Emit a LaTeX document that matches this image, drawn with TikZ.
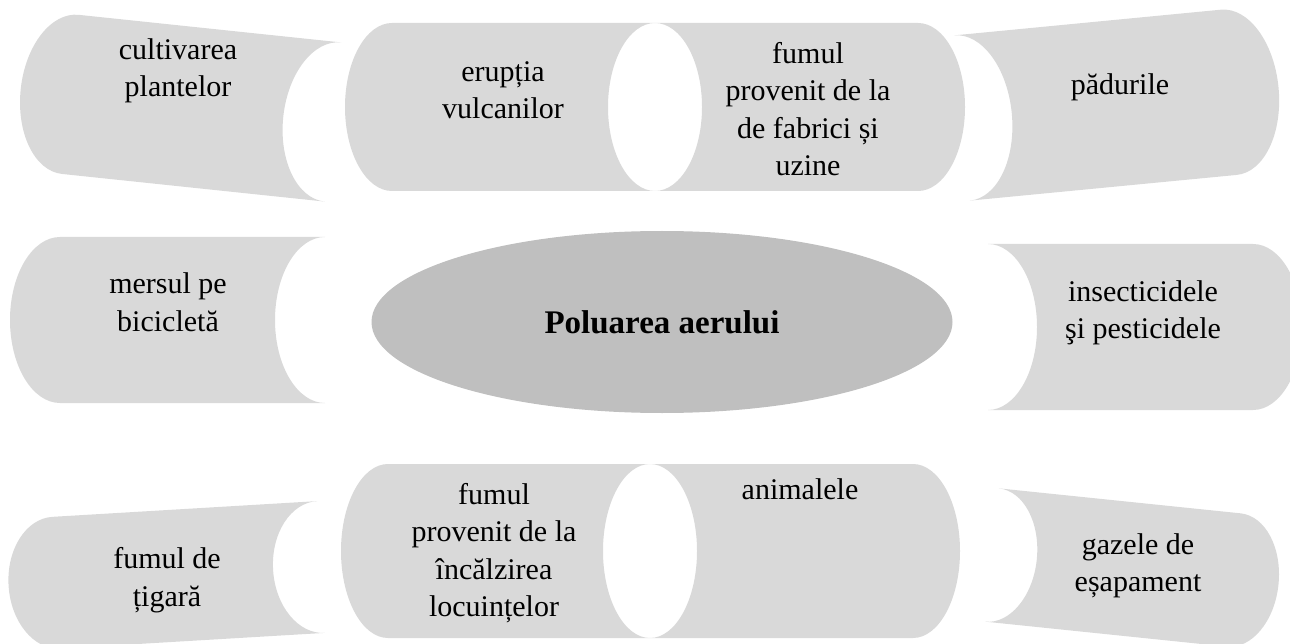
\documentclass[tikz,border=0pt]{standalone}
\usepackage{fontspec}
\setmainfont{Liberation Serif}
\usepackage{xcolor}
\usepackage{tikz}
\usetikzlibrary{shapes.geometric}

\definecolor{cangray}{HTML}{D9D9D9}
\definecolor{hubgray}{HTML}{BFBFBF}

\begin{document}
\begin{tikzpicture}[x=1pt, y=1pt,
  pics/can/.style n args={3}{code={
    \fill[cangray] (0,#2) -- (#1,#2)
      arc[start angle=90, end angle=-90, x radius=#3, y radius=#2]
      -- (0,-#2)
      arc[start angle=-90, end angle=90, x radius=#3, y radius=#2] -- cycle;
  }},
  lbl/.style={align=center, inner sep=0pt, font=\fontsize{30}{37.5}\selectfont},
  hub/.style={ellipse, fill=hubgray, minimum width=581, minimum height=182, inner sep=0pt, font=\fontsize{33}{39}\selectfont\bfseries}
]
\useasboundingbox (0,0) rectangle (1290,-644);

% top row
\pic[rotate=174] at (333,-122) {can={264}{80}{50}};
\pic[rotate=180] at (655,-107) {can={263}{84}{47}};
\pic at (655,-107) {can={263}{84}{47}};
\pic[rotate=5.5] at (962,-118) {can={268}{83}{50}};

% middle row
\pic[rotate=180] at (325,-320) {can={265}{83}{50}};
\pic at (988,-327) {can={265}{83}{49}};

% bottom row
\pic[rotate=183.4] at (321,-567) {can={265}{66}{48}};
\pic[rotate=180] at (650,-551) {can={262}{87}{47}};
\pic at (650,-551) {can={263}{87}{47}};
\pic[rotate=-5.9] at (992,-555) {can={243}{67}{45}};

\node[hub] (hub) at (662,-322) {Poluarea aerului};

\node[lbl] (cult) at (178,-71) {cultivarea\\plantelor};
\node[lbl] (erup) at (503,-90) {erupția\\vulcanilor};
\node[lbl] (fabr) at (808,-109) {fumul\\provenit de la\\de fabrici și\\uzine};
\node[lbl] (pad) at (1120,-87) {pădurile};
\node[lbl] (bici) at (168,-302) {mersul pe\\bicicletă};
\node[lbl] (insect) at (1143,-313) {insecticidele\\şi pesticidele};
\node[lbl] (tig) at (167,-580) {fumul de\\țigară};
\node[lbl] (incalz) at (494,-553) {fumul\\provenit de la\\încălzirea\\locuințelor};
\node[lbl] (anim) at (800,-489) {animalele};
\node[lbl] (gaze) at (1138,-566) {gazele de\\eșapament};
\end{tikzpicture}
\end{document}
